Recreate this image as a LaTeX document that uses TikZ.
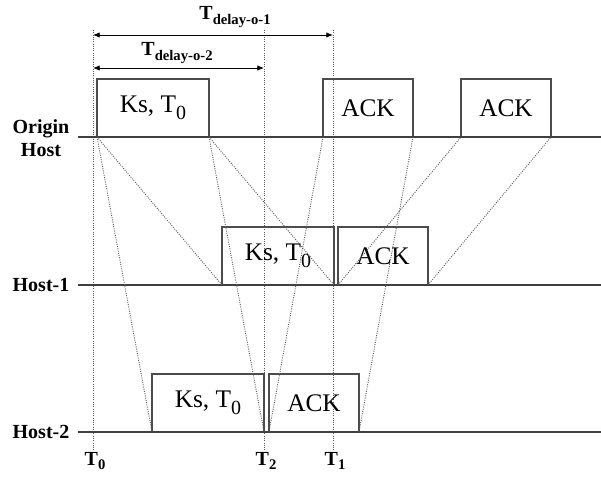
\documentclass[tikz,border=0pt]{standalone}
\usepackage{fontspec}
\setmainfont{Liberation Serif}
\usepackage{tikz}
\usetikzlibrary{positioning}
\usetikzlibrary{arrows.meta}

% lowered subscripts, as in the drawing
\newcommand{\pktsub}[1]{\raisebox{-5pt}{\fontsize{15}{15}\selectfont #1}}
\newcommand{\tsub}[1]{\raisebox{-3.5pt}{\fontsize{11}{11}\selectfont\bfseries #1}}

\begin{document}
\begin{tikzpicture}[
		x=0.75pt, y=-0.75pt,
		hostlabel/.style={font=\fontsize{15}{17}\selectfont\bfseries, align=center, inner sep=0pt},
		pkt/.style={rectangle, draw=black!70, line width=1.1pt, inner sep=0pt, outer sep=0pt, anchor=south west, minimum height=43.5pt, font=\fontsize{19}{21}\selectfont},
		kspkt/.style={pkt, minimum width=84pt},
		ackpkt/.style={pkt, minimum width=67.5pt},
		hostline/.style={draw=black!75, line width=1.1pt},
		prop/.style={draw=black!65, densely dotted, line width=0.7pt},
		timeline/.style={draw=black!65, densely dotted, line width=0.7pt},
		delay/.style={{Latex[length=5pt,width=4pt]}-{Latex[length=5pt,width=4pt]}, line width=0.6pt},
		tlabel/.style={font=\fontsize{15}{17}\selectfont\bfseries, inner sep=1pt}
	]
	\useasboundingbox (0,0) rectangle (601,477);

	% hosts
	\node[hostlabel] (origin) at (41,138) {Origin\\Host};
	\node[hostlabel] (host1) at (41,285) {Host-1};
	\node[hostlabel] (host2) at (41,432) {Host-2};
	\coordinate (o-a) at (78,137);  \coordinate (o-b) at (601,137);
	\coordinate (h1-a) at (78,285); \coordinate (h1-b) at (601,285);
	\coordinate (h2-a) at (78,432); \coordinate (h2-b) at (601,432);

	% time marks
	\coordinate (t0top) at (93,30);
	\coordinate (t2top) at (264,30);
	\coordinate (t1top) at (333,30);
	\node[tlabel] (T0) at (95,461) {T\tsub{0}};
	\node[tlabel] (T2) at (266,461) {T\tsub{2}};
	\node[tlabel] (T1) at (335,461) {T\tsub{1}};
	\draw[timeline] (t0top) -- (t0top |- T0.north);
	\draw[timeline] (t2top) -- (t2top |- T2.north);
	\draw[timeline] (t1top) -- (t1top |- T1.north);

	% delays
	\coordinate (d1l) at (93,35); \coordinate (d1r) at (333,35);
	\coordinate (d2l) at (93,68); \coordinate (d2r) at (264,68);
	\node[tlabel] (ld1) at (235,17) {T\tsub{delay-o-1}};
	\node[tlabel] (ld2) at (177,53) {T\tsub{delay-o-2}};
	\draw[delay] (d1l) -- (d1r);
	\draw[delay] (d2l) -- (d2r);

	% packets
	\node[kspkt] (ks0) at (97,137) {Ks, T\pktsub{0}};
	\node[ackpkt] (acko1) at (323,137) {ACK};
	\node[ackpkt] (acko2) at (461,137) {ACK};
	\node[kspkt] (ks1) at (222,285) {Ks, T\pktsub{0}};
	\node[ackpkt] (ack1) at (338,285) {ACK};
	\node[kspkt] (ks2) at (152,432) {Ks, T\pktsub{0}};
	\node[ackpkt] (ack2) at (269,432) {ACK};

	\draw[hostline] (o-a) -- (o-b);
	\draw[hostline] (h1-a) -- (h1-b);
	\draw[hostline] (h2-a) -- (h2-b);

	% propagation
	\draw[prop] (ks0.south west) -- (ks1.south west);
	\draw[prop] (ks0.south west) -- (ks2.south west);
	\draw[prop] (ks0.south east) -- (ks1.south east);
	\draw[prop] (ks0.south east) -- (ks2.south east);
	\draw[prop] (ack1.south west) -- (acko2.south west);
	\draw[prop] (ack1.south east) -- (acko2.south east);
	\draw[prop] (ack2.south west) -- (acko1.south west);
	\draw[prop] (ack2.south east) -- (acko1.south east);

\end{tikzpicture}
\end{document}
